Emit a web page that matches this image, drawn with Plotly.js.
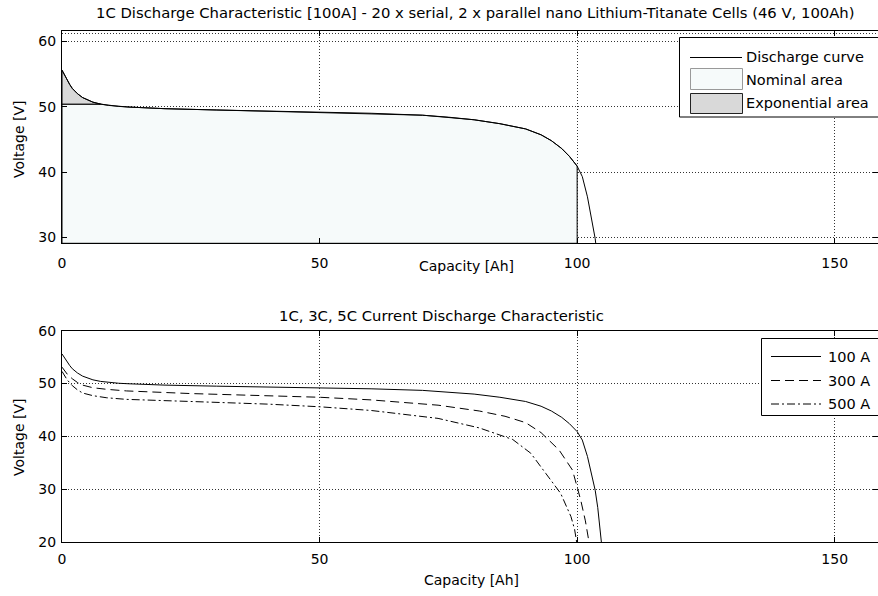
<!DOCTYPE html>
<html>
<head>
<meta charset="utf-8">
<script src="https://cdn.plot.ly/plotly-3.0.1.min.js"></script>
<style>html,body{margin:0;padding:0;background:#fff;}#chart{width:878px;height:596px;}</style>
</head>
<body>
<div id="chart"></div>
<script>
// ---------------- data ----------------
const topTitle = '1C Discharge Characteristic [100A] - 20 x serial, 2 x parallel nano Lithium-Titanate Cells (46 V, 100Ah)';
const bottomTitle = '1C, 3C, 5C Current Discharge Characteristic';
const xLabel = 'Capacity [Ah]';
const yLabel = 'Voltage [V]';
const xTicks = [0, 50, 100, 150];
const yTicksTop = [30, 40, 50, 60];
const yTicksBottom = [20, 30, 40, 50, 60];

// 100 A (1C) discharge curve
const cap100 = [0, 0.5, 1, 1.5, 2, 3, 4, 5, 6, 7.5, 9, 11, 13, 20, 30, 40, 50, 60, 70, 75, 80, 85, 90, 93, 95, 97, 98.5, 100, 101, 102, 103, 103.5, 104, 104.4, 104.7];
const volt100 = [55.6, 54.8, 54.0, 53.4, 52.8, 52.0, 51.4, 51.0, 50.7, 50.4, 50.2, 50.05, 49.95, 49.7, 49.5, 49.35, 49.2, 49.0, 48.7, 48.4, 48.0, 47.4, 46.6, 45.7, 44.8, 43.6, 42.4, 40.9, 39.3, 36.2, 32.3, 29.8, 26.5, 23.3, 20];
// 300 A (3C)
const cap300 = [0, 0.5, 1, 2, 3, 4, 6, 8.7, 12.5, 25, 40, 50, 60, 73, 81, 86, 90, 93, 96.5, 99.1, 100.7, 101.6, 102.3];
const volt300 = [53.1, 52.4, 51.8, 50.9, 50.2, 49.7, 49.2, 48.9, 48.6, 48.1, 47.7, 47.4, 46.9, 45.9, 44.8, 43.8, 42.6, 40.7, 37.4, 33.6, 27.9, 24.0, 20];
// 500 A (5C)
const cap500 = [0, 0.5, 1, 2, 3, 4, 6, 8.7, 12.5, 25, 40, 50, 60, 73, 81, 87.5, 91, 93.9, 96.8, 98.8, 99.5, 99.9];
const volt500 = [52.3, 51.5, 50.7, 49.6, 48.8, 48.2, 47.7, 47.3, 47.0, 46.6, 46.1, 45.6, 44.9, 43.4, 41.6, 39.4, 36.8, 33.0, 29.2, 24.8, 22.4, 20];

const expAreaLevel = 50.4;   // lower edge of exponential area
const expAreaEnd = 7.5;      // capacity where exponential area ends
const nominalEnd = 100;      // capacity where nominal area ends
const topRange = [29.08, 61.6];
const bottomRange = [20, 60];
const xRange = [0, 158.4];

const legendTop = ['Discharge curve', 'Nominal area', 'Exponential area'];
const legendBottom = ['100 A', '300 A', '500 A'];

// ---------------- build ----------------
const FONT = 'DejaVu Sans, Liberation Sans, Arial, sans-serif';
const nominalColor = '#f6fafa';
const expColor = '#d9d9d9';

// nominal polygon: from exp level, along curve to nominalEnd, then down to bottom
const nomX = [0], nomY = [expAreaLevel];
for (let i = 0; i < cap100.length; i++) {
  if (cap100[i] >= expAreaEnd && cap100[i] <= nominalEnd) { nomX.push(cap100[i]); nomY.push(volt100[i]); }
}
nomX.push(nominalEnd, 0, 0); nomY.push(topRange[0], topRange[0], expAreaLevel);

const expX = [], expY = [];
for (let i = 0; i < cap100.length; i++) {
  if (cap100[i] <= expAreaEnd) { expX.push(cap100[i]); expY.push(volt100[i]); }
}
expX.push(0, 0); expY.push(expAreaLevel, volt100[0]);

const traces = [
  {x: nomX, y: nomY, xaxis: 'x', yaxis: 'y', type: 'scatter', mode: 'lines', fill: 'toself',
   fillcolor: nominalColor, line: {color: '#000', width: 1}, hoverinfo: 'skip', showlegend: false},
  {x: expX, y: expY, xaxis: 'x', yaxis: 'y', type: 'scatter', mode: 'lines', fill: 'toself',
   fillcolor: expColor, line: {color: '#000', width: 1}, hoverinfo: 'skip', showlegend: false},
  {x: cap100, y: volt100, xaxis: 'x', yaxis: 'y', type: 'scatter', mode: 'lines',
   line: {color: '#000', width: 1}, showlegend: false},
  {x: cap100, y: volt100, xaxis: 'x2', yaxis: 'y2', type: 'scatter', mode: 'lines',
   line: {color: '#000', width: 1}, showlegend: false},
  {x: cap300, y: volt300, xaxis: 'x2', yaxis: 'y2', type: 'scatter', mode: 'lines',
   line: {color: '#000', width: 1, dash: '9px,5px'}, showlegend: false},
  {x: cap500, y: volt500, xaxis: 'x2', yaxis: 'y2', type: 'scatter', mode: 'lines',
   line: {color: '#000', width: 1, dash: '8px,3px,2px,3px'}, showlegend: false}
];

// pixel -> paper helpers (plot area: x 62..878, y 31..542)
const L = 62, R = 0, T = 31, B = 54, W = 878, H = 596;
const pw = W - L - R, ph = H - T - B;
const px = p => (p - L) / pw;
const py = p => (H - B - p) / ph;

const gridStyle = {showgrid: true, gridcolor: '#333', griddash: '1px,2px', gridwidth: 1};
function xAxis(anchor, standoff) {
  return Object.assign({
    anchor: anchor, range: xRange, tickvals: xTicks, ticktext: xTicks.map(String),
    ticks: 'inside', ticklen: 5, tickcolor: '#000', showline: true, linecolor: '#000', linewidth: 1,
    mirror: 'ticks', zeroline: false, ticklabelstandoff: standoff,
    tickfont: {family: FONT, size: 14, color: '#000'}
  }, gridStyle);
}
function yAxis(anchor, domain, range, ticks) {
  return Object.assign({
    anchor: anchor, domain: domain, range: range, tickvals: ticks, ticktext: ticks.map(String),
    ticks: 'inside', ticklen: 5, tickcolor: '#000', showline: true, linecolor: '#000', linewidth: 1,
    mirror: 'ticks', zeroline: false, ticklabelstandoff: 2,
    tickfont: {family: FONT, size: 14, color: '#000'}
  }, gridStyle);
}

const shapes = [];
const annotations = [];
function ann(text, x, y, opts) {
  annotations.push(Object.assign({text: text, x: px(x), y: py(y), xref: 'paper', yref: 'paper',
    showarrow: false, xanchor: 'center', yanchor: 'middle', font: {family: FONT, size: 14, color: '#000'}}, opts || {}));
}
// titles
ann(topTitle, 475, 13, {font: {family: FONT, size: 14.8, color: '#000'}});
ann(bottomTitle, 441, 315, {font: {family: FONT, size: 14.8, color: '#000'}});
ann(xLabel, 466, 266);
ann(xLabel, 471, 580);
ann(yLabel, 19, 140, {textangle: -90});
ann(yLabel, 19, 438, {textangle: -90});

// extra dotted line under top border of upper axes
shapes.push({type: 'line', xref: 'paper', yref: 'paper', x0: 0, x1: 1, y0: py(33.5), y1: py(33.5),
  line: {color: '#333', width: 1, dash: '1px,2px'}});

// top legend
const LF = {family: FONT, size: 14.5, color: '#000'};
shapes.push({type: 'rect', xref: 'paper', yref: 'paper', x0: px(679.5), x1: px(890), y0: py(117), y1: py(37.5),
  fillcolor: '#fff', line: {color: '#000', width: 1}});
shapes.push({type: 'line', xref: 'paper', yref: 'paper', x0: px(690), x1: px(742), y0: py(57.5), y1: py(57.5),
  line: {color: '#000', width: 1}});
shapes.push({type: 'rect', xref: 'paper', yref: 'paper', x0: px(690.5), x1: px(742.5), y0: py(89.5), y1: py(68.5),
  fillcolor: nominalColor, line: {color: '#999', width: 1}});
shapes.push({type: 'rect', xref: 'paper', yref: 'paper', x0: px(690.5), x1: px(742.5), y0: py(113.5), y1: py(93.5),
  fillcolor: expColor, line: {color: '#222', width: 1}});
ann(legendTop[0], 744, 57, {xanchor: 'left', font: LF});
ann(legendTop[1], 744, 80, {xanchor: 'left', font: LF});
ann(legendTop[2], 744, 103, {xanchor: 'left', font: LF});

// bottom legend
shapes.push({type: 'rect', xref: 'paper', yref: 'paper', x0: px(761.5), x1: px(890), y0: py(415.5), y1: py(338.5),
  fillcolor: '#fff', line: {color: '#000', width: 1}});
const dashes = ['solid', '9px,5px', '8px,3px,2px,3px'];
const rowY = [356.5, 380.5, 404];
for (let i = 0; i < 3; i++) {
  shapes.push({type: 'line', xref: 'paper', yref: 'paper', x0: px(771), x1: px(821), y0: py(rowY[i]), y1: py(rowY[i]),
    line: {color: '#000', width: 1, dash: dashes[i]}});
  ann(legendBottom[i], 826, rowY[i], {xanchor: 'left', font: LF});
}

const topDomain = [py(243.3), 1];
const botDomain = [0, py(330.7)];

const layout = {
  width: W, height: H,
  margin: {l: L, r: R, t: T, b: B, pad: 0},
  paper_bgcolor: '#fff', plot_bgcolor: '#fff',
  showlegend: false,
  font: {family: FONT, size: 14, color: '#000'},
  xaxis: xAxis('y', 7),
  yaxis: yAxis('x', topDomain, topRange, yTicksTop),
  xaxis2: xAxis('y2', 4),
  yaxis2: yAxis('x2', botDomain, bottomRange, yTicksBottom),
  shapes: shapes,
  annotations: annotations
};

Plotly.newPlot('chart', traces, layout, {staticPlot: true, displayModeBar: false});
</script>
</body>
</html>
